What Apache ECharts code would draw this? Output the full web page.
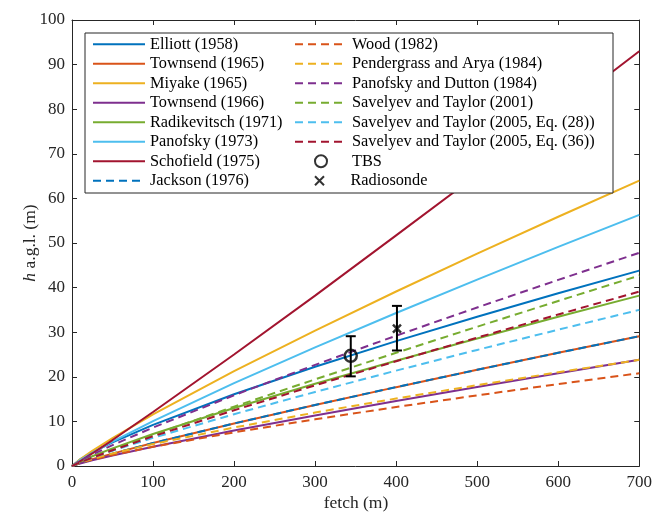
<!DOCTYPE html>
<html><head><meta charset="utf-8">
<script src="https://cdn.jsdelivr.net/npm/echarts@6/dist/echarts.min.js"></script>
<style>html,body{margin:0;padding:0;background:#fff}#c{width:655px;height:515px}</style>
</head><body><div id="c"></div>
<script>
// ---- data ----
const fetchX = [0, 10, 25, 50, 100, 200, 300, 400, 500, 600, 700];
const elliott1958      = [0, 1.46, 3.05, 5.30, 9.23, 16.08, 22.24, 27.99, 33.46, 38.72, 43.8];
const townsend1965     = [0, 0.66, 1.50, 2.78, 5.15, 9.54, 13.69, 17.68, 21.57, 25.37, 29.1];
const miyake1965       = [0, 1.52, 3.41, 6.27, 11.55, 21.25, 30.36, 39.12, 47.60, 55.88, 64.0];
const townsend1966     = [0, 0.58, 1.28, 2.36, 4.33, 7.94, 11.33, 14.58, 17.72, 20.79, 23.8];
const radikevitsch1971 = [0, 0.99, 2.18, 3.95, 7.17, 13.01, 18.44, 23.61, 28.60, 33.46, 38.2];
const panofsky1973     = [0, 1.31, 2.95, 5.45, 10.06, 18.58, 26.60, 34.31, 41.80, 49.12, 56.3];
const schofield1975    = [0, 1.07, 2.81, 5.82, 12.1, 25.0, 38.2, 51.7, 65.3, 79.1, 93.0];
const jackson1976      = [0, 0.66, 1.50, 2.78, 5.15, 9.54, 13.69, 17.68, 21.57, 25.37, 29.1];
const wood1982         = [0, 0.67, 1.40, 2.45, 4.30, 7.54, 10.47, 13.22, 15.84, 18.36, 20.8];
const pendergrass1984  = [0, 0.76, 1.60, 2.81, 4.92, 8.63, 11.98, 15.13, 18.12, 21.01, 23.8];
const panofskyDutton1984 = [0, 1.14, 2.55, 4.69, 8.62, 15.87, 22.68, 29.22, 35.55, 41.73, 47.8];
const savelyev2001     = [0, 0.82, 1.93, 3.67, 6.99, 13.32, 19.42, 25.38, 31.23, 37.00, 42.7];
const savelyev2005eq28 = [0, 0.83, 1.86, 3.43, 6.31, 11.62, 16.60, 21.39, 26.03, 30.56, 35.0];
const savelyev2005eq36 = [0, 0.82, 1.88, 3.54, 6.66, 12.50, 18.08, 23.50, 28.79, 33.98, 39.1];
// observations: [fetch, h, low, high]
const tbsObs        = [344, 24.7, 20.1, 29.1];
const radiosondeObs = [401, 30.8, 25.9, 35.9];

const xTicks = [0, 100, 200, 300, 400, 500, 600, 700];
const yTicks = [0, 10, 20, 30, 40, 50, 60, 70, 80, 90, 100];

const C = {blue:'#0072BD', orange:'#D95319', yellow:'#EDB120', purple:'#7E2F8E',
           green:'#77AC30', lblue:'#4DBEEE', dred:'#A2142F'};
const FONT = 'Liberation Serif';
const DASH = [8, 5];

const curves = [
  ['Elliott (1958)', elliott1958, C.blue, 'solid'],
  ['Townsend (1965)', townsend1965, C.orange, 'solid'],
  ['Miyake (1965)', miyake1965, C.yellow, 'solid'],
  ['Townsend (1966)', townsend1966, C.purple, 'solid'],
  ['Radikevitsch (1971)', radikevitsch1971, C.green, 'solid'],
  ['Panofsky (1973)', panofsky1973, C.lblue, 'solid'],
  ['Schofield (1975)', schofield1975, C.dred, 'solid'],
  ['Jackson (1976)', jackson1976, C.blue, DASH],
  ['Wood (1982)', wood1982, C.orange, DASH],
  ['Pendergrass and Arya (1984)', pendergrass1984, C.yellow, DASH],
  ['Panofsky and Dutton (1984)', panofskyDutton1984, C.purple, DASH],
  ['Savelyev and Taylor (2001)', savelyev2001, C.green, DASH],
  ['Savelyev and Taylor (2005, Eq. (28))', savelyev2005eq28, C.lblue, DASH],
  ['Savelyev and Taylor (2005, Eq. (36))', savelyev2005eq36, C.dred, DASH]
];

const series = curves.map(([name, ys, color, type]) => ({
  name, type: 'line', data: fetchX.map((x, i) => [x, ys[i]]),
  symbol: 'none', showSymbol: false, color, z: 2, animation: false,
  lineStyle: {color, width: 2, type}
}));

series.push({
  name: 'errbars', type: 'custom', z: 5, animation: false,
  data: [tbsObs, radiosondeObs],
  renderItem: (params, api) => {
    const x = api.value(0), lo = api.value(2), hi = api.value(3);
    const a = api.coord([x, lo]), b = api.coord([x, hi]);
    const cw = 5, st = {stroke: '#000', lineWidth: 2};
    return {type: 'group', children: [
      {type: 'line', shape: {x1: a[0], y1: a[1], x2: b[0], y2: b[1]}, style: st},
      {type: 'line', shape: {x1: a[0]-cw, y1: a[1], x2: a[0]+cw, y2: a[1]}, style: st},
      {type: 'line', shape: {x1: b[0]-cw, y1: b[1], x2: b[0]+cw, y2: b[1]}, style: st}
    ]};
  }
});
series.push({
  name: 'TBS', type: 'scatter', z: 6, animation: false,
  data: [[tbsObs[0], tbsObs[1]]], symbol: 'circle', symbolSize: 12,
  itemStyle: {color: 'rgba(0,0,0,0)', borderColor: '#000', borderWidth: 2.5}
});
series.push({
  name: 'Radiosonde', type: 'scatter', z: 6, animation: false,
  data: [[radiosondeObs[0], radiosondeObs[1]]], symbol: 'path://M0,0L10,10M10,0L0,10', symbolSize: 8,
  itemStyle: {color: 'rgba(0,0,0,0)', borderColor: '#000', borderWidth: 2.5}
});

const axisCol = '#262626';
const tickStyle = {inside: true, length: 5, lineStyle: {color: axisCol, width: 1}};
const lineStyleAx = {show: true, onZero: false, lineStyle: {color: axisCol, width: 1}};
const labelStyle = {fontFamily: FONT, fontSize: 17, color: axisCol};

const legTxt = {fontFamily: FONT, fontSize: 16.3, color: '#000', lineHeight: 16};
const legBase = {orient: 'vertical', itemWidth: 52, itemHeight: 12, itemGap: 3.5,
  textStyle: legTxt, selectedMode: false, z: 4, padding: 0};
const lineLegStyle = {itemStyle: {opacity: 0, borderWidth: 0, color: 'rgba(0,0,0,0)'}};
const names = curves.map(c => c[0]);

const option = {
  animation: false,
  backgroundColor: '#fff',
  grid: {left: 72, right: 15, top: 20, bottom: 49},
  xAxis: [
    {type: 'value', min: 0, max: 700, interval: 100, position: 'bottom',
     axisLine: lineStyleAx, axisTick: tickStyle, splitLine: {show: false},
     axisLabel: Object.assign({margin: 8, formatter: v => xTicks.includes(v) ? String(v) : ''}, labelStyle)},
    {type: 'value', min: 0, max: 700, interval: 100, position: 'top',
     axisLine: lineStyleAx, axisTick: tickStyle, splitLine: {show: false}, axisLabel: {show: false}}
  ],
  yAxis: [
    {type: 'value', min: 0, max: 100, interval: 10, position: 'left',
     axisLine: lineStyleAx, axisTick: tickStyle, splitLine: {show: false},
     axisLabel: Object.assign({margin: 7, formatter: v => yTicks.includes(v) ? String(v) : ''}, labelStyle)},
    {type: 'value', min: 0, max: 100, interval: 10, position: 'right',
     axisLine: lineStyleAx, axisTick: tickStyle, splitLine: {show: false}, axisLabel: {show: false}}
  ],
  legend: [
    Object.assign({}, legBase, lineLegStyle, {left: 92, top: 36.3, data: names.slice(0, 8)}),
    Object.assign({}, legBase, lineLegStyle, {left: 294, top: 36.3, data: names.slice(8, 14)}),
    Object.assign({}, legBase, {left: 314, top: 153.3, data: ['TBS']}),
    Object.assign({}, legBase, {left: 314, top: 172.8, itemHeight: 9, data: ['Radiosonde']})
  ],
  graphic: {elements: [
    {type: 'rect', z: 3, shape: {x: 85, y: 33, width: 528, height: 160},
     style: {fill: '#fff', stroke: axisCol, lineWidth: 1}},
    {type: 'text', z: 3, x: 356, y: 503,
     style: {text: 'fetch (m)', font: '17.5px "Liberation Serif"', fill: axisCol,
             textAlign: 'center', textVerticalAlign: 'middle'}},
    {type: 'text', z: 3, x: 30, y: 243, rotation: Math.PI / 2,
     style: {text: '{i|h} a.g.l. (m)', font: '17.5px "Liberation Serif"', fill: axisCol,
             textAlign: 'center', textVerticalAlign: 'middle',
             rich: {i: {fontFamily: FONT, fontSize: 17.5, fontStyle: 'italic', fill: axisCol}}}}
  ]},
  series
};
const chart = echarts.init(document.getElementById('c'), null, {renderer: 'canvas'});
chart.setOption(option);
</script></body></html>
